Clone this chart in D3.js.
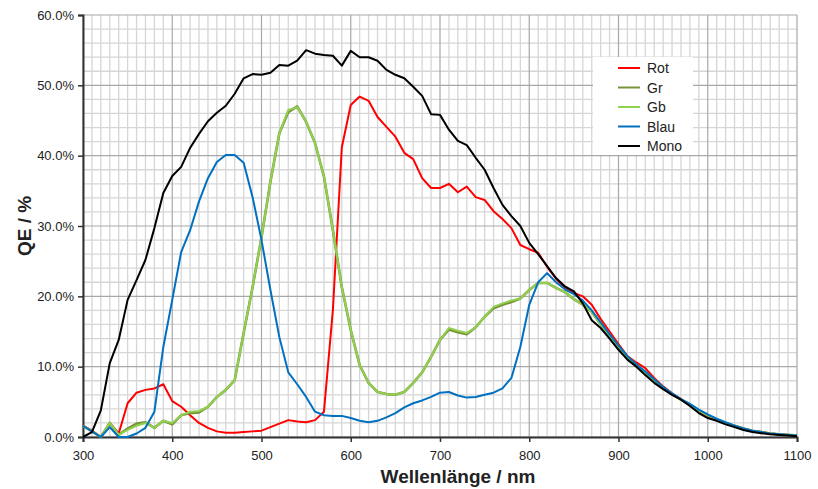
<!DOCTYPE html>
<html>
<head>
<meta charset="utf-8">
<script src="https://cdn.jsdelivr.net/npm/d3@7"></script>
<style>
  body { margin: 0; background: #fff; }
  svg { display: block; font-family: "Liberation Sans", Arial, sans-serif; }
</style>
</head>
<body>
<svg id="chart" width="818" height="489"></svg>
<script>
// wavelengths 300..1100 nm in 10 nm steps
const wavelengths = d3.range(300, 1101, 10);

const rot = [1.6, 0.9, 0, 2.0, 0.5, 4.8, 6.3, 6.7, 6.9, 7.5,
  5.1, 4.3, 3.1, 2.0, 1.3, 0.8, 0.6, 0.6, 0.7, 0.8,
  0.9, 1.4, 1.9, 2.4, 2.2, 2.1, 2.4, 3.6, 18.1, 41.2,
  47.2, 48.4, 47.8, 45.5, 44.1, 42.7, 40.4, 39.5, 36.8, 35.4,
  35.4, 36.0, 34.8, 35.6, 34.1, 33.7, 32.1, 31.0, 29.7, 27.3,
  26.7, 26.2, 24.2, 22.5, 21.2, 20.5, 20.0, 18.8, 16.8, 15.0,
  13.2, 11.5, 10.6, 9.8, 8.4, 7.2, 6.2, 5.4, 4.5, 3.7,
  3.0, 2.5, 2.0, 1.6, 1.2, 0.9, 0.7, 0.5, 0.4, 0.3, 0.2];

const gr = [1.6, 0.8, 0, 2.0, 0.3, 1.2, 1.9, 2.1, 1.3, 2.3,
  1.8, 3.1, 3.4, 3.5, 4.3, 5.7, 6.7, 8.1, 14.8, 21.3,
  28.4, 36.3, 43.2, 46.2, 47.0, 44.8, 41.8, 37.0, 29.4, 21.3,
  15.2, 10.2, 7.7, 6.4, 6.1, 6.0, 6.4, 7.7, 9.2, 11.4,
  13.8, 15.3, 14.9, 14.6, 15.6, 17.1, 18.3, 18.8, 19.2, 19.7,
  20.9, 21.9, 21.9, 21.2, 20.6, 19.6, 18.8, 17.8, 16.0, 14.4,
  12.8, 11.4, 10.2, 9.2, 8.1, 7.0, 6.1, 5.3, 4.6, 3.8,
  3.1, 2.5, 2.0, 1.6, 1.2, 0.9, 0.7, 0.5, 0.4, 0.3, 0.2];

const gb = [1.6, 0.8, 0, 2.0, 0.3, 1.0, 1.6, 2.0, 1.3, 2.3,
  2.0, 3.1, 3.6, 3.7, 4.3, 5.7, 6.7, 8.1, 14.8, 21.3,
  28.4, 36.3, 43.2, 46.5, 46.9, 44.8, 41.8, 37.0, 29.4, 21.3,
  15.2, 10.2, 7.7, 6.4, 6.1, 6.0, 6.4, 7.7, 9.2, 11.4,
  13.8, 15.5, 15.1, 14.8, 15.6, 17.1, 18.5, 19.0, 19.4, 19.7,
  20.9, 21.9, 21.9, 21.2, 20.6, 19.6, 18.8, 17.8, 16.0, 14.4,
  12.8, 11.4, 10.2, 9.2, 8.1, 7.0, 6.1, 5.3, 4.6, 3.8,
  3.1, 2.5, 2.0, 1.6, 1.2, 0.9, 0.7, 0.5, 0.4, 0.3, 0.2];

const blau = [1.6, 0.8, 0, 1.4, 0, 0, 0.5, 1.3, 3.6, 12.8,
  19.5, 26.3, 29.4, 33.5, 36.8, 39.1, 40.1, 40.1, 39.0, 34.1,
  28.0, 20.9, 14.2, 9.2, 7.5, 5.7, 3.6, 3.1, 3.0, 3.0,
  2.7, 2.3, 2.1, 2.3, 2.8, 3.4, 4.2, 4.8, 5.2, 5.7,
  6.3, 6.4, 5.9, 5.6, 5.7, 6.0, 6.3, 6.9, 8.4, 12.8,
  18.8, 22.0, 23.3, 22.0, 21.0, 20.3, 19.4, 18.0, 16.3, 14.6,
  13.0, 11.5, 10.3, 9.3, 8.2, 7.1, 6.2, 5.4, 4.7, 3.9,
  3.2, 2.6, 2.1, 1.6, 1.2, 0.9, 0.7, 0.5, 0.4, 0.3, 0.2];

const mono = [0, 0.7, 3.8, 10.5, 13.8, 19.5, 22.3, 25.2, 29.7, 34.7,
  37.1, 38.4, 41.1, 43.1, 44.9, 46.1, 47.1, 48.8, 51.0, 51.6,
  51.5, 51.8, 52.9, 52.8, 53.5, 55.0, 54.5, 54.3, 54.2, 52.8,
  54.9, 54.0, 54.0, 53.5, 52.2, 51.5, 51.0, 49.8, 48.5, 45.9,
  45.8, 43.7, 42.1, 41.5, 39.7, 38.0, 35.4, 33.0, 31.4, 30.0,
  27.6, 26.0, 24.3, 22.6, 21.4, 20.7, 19.0, 16.6, 15.5, 14.0,
  12.4, 11.0, 10.0, 8.8, 7.7, 6.8, 6.0, 5.3, 4.4, 3.4,
  2.7, 2.3, 1.8, 1.4, 1.0, 0.7, 0.55, 0.4, 0.3, 0.2, 0.1];

const seriesNames = ["Rot", "Gr", "Gb", "Blau", "Mono"];
const seriesColors = ["#ff0000", "#77933c", "#92d050", "#0070c0", "#000000"];
const seriesValues = [rot, gr, gb, blau, mono];

const xTicks = d3.range(300, 1101, 100);
const yTicks = d3.range(0, 61, 10);

const margin = {top: 15, right: 21, bottom: 52, left: 83},
    width = 818 - margin.left - margin.right,
    height = 489 - margin.top - margin.bottom;

const svg = d3.select("#chart");
const g = svg.append("g")
    .attr("transform", "translate(" + margin.left + "," + margin.top + ")");

let x = d3.scaleLinear().domain([300, 1100]).range([0, width]);
let y = d3.scaleLinear().domain([0, 60]).range([height, 0]);

// grid: minor lines first, then majors on top
d3.range(300, 1101, 10).filter(v => v % 100 !== 0).forEach(v => {
    g.append("line").attr("x1", x(v)).attr("x2", x(v)).attr("y1", 0).attr("y2", height)
        .attr("stroke", "#d6d6d6").attr("stroke-width", 1.3);
});
d3.range(0, 61, 2).filter(v => v % 10 !== 0).forEach(v => {
    g.append("line").attr("x1", 0).attr("x2", width).attr("y1", y(v)).attr("y2", y(v))
        .attr("stroke", "#d6d6d6").attr("stroke-width", 1.3);
});
xTicks.forEach(v => {
    g.append("line").attr("x1", x(v)).attr("x2", x(v)).attr("y1", 0).attr("y2", height)
        .attr("stroke", "#a8a8a8").attr("stroke-width", 1.2);
});
yTicks.forEach(v => {
    g.append("line").attr("x1", 0).attr("x2", width).attr("y1", y(v)).attr("y2", y(v))
        .attr("stroke", "#a8a8a8").attr("stroke-width", 1.2);
});

// axes
let xAxis = d3.axisBottom(x).tickValues(xTicks).tickSize(5).tickPadding(9).tickFormat(d3.format("d"));
let yAxis = d3.axisLeft(y).tickValues(yTicks).tickSize(5).tickPadding(4).tickFormat(d => d.toFixed(1) + "%");

let gx = g.append("g").attr("transform", "translate(0," + height + ")").call(xAxis);
let gy = g.append("g").call(yAxis);
[gx, gy].forEach(a => {
    a.select(".domain").attr("stroke", "#333").attr("stroke-width", 2);
    a.selectAll(".tick line").attr("stroke", "#333").attr("stroke-width", 1.5);
    a.selectAll(".tick text").attr("fill", "#222").style("font-size", "13px");
});

// curves
let line = d3.line()
    .x((d, i) => x(wavelengths[i]))
    .y(d => y(d));

seriesValues.forEach((vals, i) => {
    g.append("path")
        .datum(vals)
        .attr("d", line)
        .attr("fill", "none")
        .attr("stroke", seriesColors[i])
        .attr("stroke-width", seriesNames[i] === "Gr" ? 2.6 : 2)
        .attr("stroke-linejoin", "round");
});

// axis titles
svg.append("text")
    .attr("x", 458).attr("y", 483)
    .attr("text-anchor", "middle")
    .style("font-size", "19px").style("font-weight", "bold")
    .attr("fill", "#222")
    .text("Wellenlänge / nm");

svg.append("text")
    .attr("transform", "translate(31,226) rotate(-90)")
    .attr("text-anchor", "middle")
    .style("font-size", "19px").style("font-weight", "bold")
    .attr("fill", "#222")
    .text("QE / %");

// legend
let legend = svg.append("g");
legend.append("rect")
    .attr("x", 593).attr("y", 57).attr("width", 100).attr("height", 98)
    .attr("fill", "#fff");
seriesNames.forEach((name, i) => {
    let ly = 68 + i * 19.5;
    legend.append("line")
        .attr("x1", 618).attr("x2", 640).attr("y1", ly).attr("y2", ly)
        .attr("stroke", seriesColors[i]).attr("stroke-width", 2);
    legend.append("text")
        .attr("x", 647).attr("y", ly + 5)
        .style("font-size", "14px")
        .attr("fill", "#222")
        .text(name);
});
</script>
</body>
</html>
